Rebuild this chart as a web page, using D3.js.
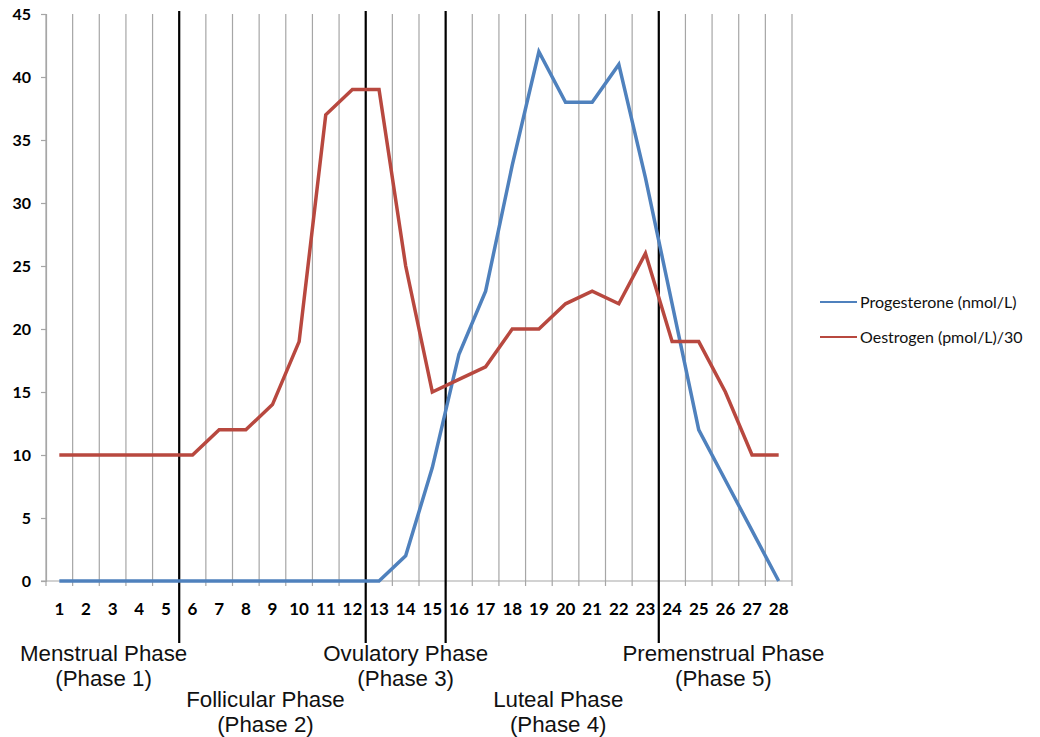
<!DOCTYPE html>
<html>
<head>
<meta charset="utf-8">
<script src="https://cdn.jsdelivr.net/npm/d3@7"></script>
<style>
  body { margin: 0; background: #fff; }
  svg { display: block; }
</style>
</head>
<body>
<svg id="chart" width="1040" height="737"></svg>
<script>
// dias del ciclo
var days = d3.range(1, 29);
var yTicks = [0, 5, 10, 15, 20, 25, 30, 35, 40, 45];

var progesterone = [0, 0, 0, 0, 0, 0, 0, 0, 0, 0, 0, 0, 0, 2, 9, 18, 23, 33, 42, 38, 38, 41, 32, 22, 12, 8, 4, 0];
var oestrogen = [10, 10, 10, 10, 10, 10, 12, 12, 14, 19, 37, 39, 39, 25, 15, 16, 17, 20, 20, 22, 23, 22, 26, 19, 19, 15, 10, 10];

var seriesNames = ["Progesterone (nmol/L)", "Oestrogen (pmol/L)/30"];
var seriesColors = ["#4F81BD", "#B8483F"];

// fases: nombre, primer dia, ultimo dia
var phaseNames = ["Menstrual Phase", "Follicular Phase", "Ovulatory Phase", "Luteal Phase", "Premenstrual Phase"];
var phaseLabels = ["(Phase 1)", "(Phase 2)", "(Phase 3)", "(Phase 4)", "(Phase 5)"];
var phaseStart = [1, 6, 13, 16, 24];
var phaseEnd = [5, 12, 15, 23, 28];

var margin = { top: 14, bottom: 156, left: 46, right: 248 };
var width = 1040, height = 737;

var svg = d3.select("#chart");

var xScale = d3.scaleBand()
  .domain(days)
  .range([margin.left, width - margin.right])
  .paddingInner(0).paddingOuter(0);

var yScale = d3.scaleLinear()
  .domain([0, 45])
  .range([height - margin.bottom, margin.top]);

var bw = xScale.bandwidth();
var y0 = yScale(0);

// lineas verticales de la cuadricula (entre categorias)
var bounds = d3.range(0, days.length + 1);
svg.append("g")
  .selectAll("line")
  .data(bounds)
  .enter().append("line")
  .attr("x1", function (d) { return margin.left + d * bw; })
  .attr("x2", function (d) { return margin.left + d * bw; })
  .attr("y1", yScale(45))
  .attr("y2", y0 + 5)
  .attr("stroke", "#a6a6a6")
  .attr("stroke-width", 1.2);

// eje y
var yAxis = d3.axisLeft(yScale)
  .tickValues(yTicks)
  .tickSize(5)
  .tickPadding(10);
var gy = svg.append("g")
  .attr("transform", "translate(" + margin.left + ",0)")
  .call(yAxis);
gy.select(".domain").attr("stroke", "#a6a6a6").attr("stroke-width", 1.2);
gy.selectAll(".tick line").attr("stroke", "#a6a6a6").attr("stroke-width", 1.2);
gy.selectAll(".tick text")
  .attr("font-family", "Lato, 'Open Sans', sans-serif")
  .attr("font-weight", "bold")
  .attr("font-size", 16)
  .attr("fill", "#000");

// eje x
var xAxis = d3.axisBottom(xScale)
  .tickSize(0)
  .tickPadding(22);
var gx = svg.append("g")
  .attr("transform", "translate(0," + y0 + ")")
  .call(xAxis);
gx.select(".domain").remove();
gx.append("line")
  .attr("x1", margin.left - 5)
  .attr("x2", width - margin.right)
  .attr("stroke", "#a6a6a6")
  .attr("stroke-width", 1.2);
gx.selectAll(".tick text")
  .attr("font-family", "Lato, 'Open Sans', sans-serif")
  .attr("font-weight", "bold")
  .attr("font-size", 17)
  .attr("fill", "#000");

// lineas negras entre fases
svg.append("g")
  .selectAll("line")
  .data(phaseEnd.slice(0, phaseEnd.length - 1))
  .enter().append("line")
  .attr("x1", function (d) { return xScale(d) + bw; })
  .attr("x2", function (d) { return xScale(d) + bw; })
  .attr("y1", margin.top - 3)
  .attr("y2", 643)
  .attr("stroke", "#000")
  .attr("stroke-width", 2.2);

// series
var line = d3.line()
  .x(function (d, i) { return xScale(days[i]) + bw / 2; })
  .y(function (d) { return yScale(d); });

[progesterone, oestrogen].forEach(function (values, k) {
  svg.append("path")
    .datum(values)
    .attr("d", line)
    .attr("fill", "none")
    .attr("stroke", seriesColors[k])
    .attr("stroke-width", 3.5)
    .attr("stroke-linejoin", "miter");
});

// leyenda
var legend = svg.append("g");
seriesNames.forEach(function (name, k) {
  var ly = 302 + k * 35;
  legend.append("line")
    .attr("x1", 820).attr("x2", 857)
    .attr("y1", ly).attr("y2", ly)
    .attr("stroke", seriesColors[k])
    .attr("stroke-width", 2);
  legend.append("text")
    .attr("x", 860)
    .attr("y", ly)
    .attr("dy", "0.35em")
    .attr("font-family", "Lato, 'Open Sans', sans-serif")
    .attr("font-size", 16)
    .attr("fill", "#111")
    .text(name);
});

// etiquetas de fases
var labelShift = [-9, -7, 0, 6, -2];
var labels = svg.append("g")
  .attr("font-family", "'Liberation Sans', Arial, sans-serif")
  .attr("font-size", 22.3)
  .attr("fill", "#111")
  .attr("text-anchor", "middle");
phaseNames.forEach(function (name, i) {
  var cx = (xScale(phaseStart[i]) + xScale(phaseEnd[i]) + bw) / 2 + labelShift[i];
  var base = i % 2 === 0 ? 661 : 707;
  labels.append("text")
    .attr("x", cx).attr("y", base)
    .text(name);
  labels.append("text")
    .attr("x", cx).attr("y", base + 25)
    .text(phaseLabels[i]);
});
</script>
</body>
</html>
